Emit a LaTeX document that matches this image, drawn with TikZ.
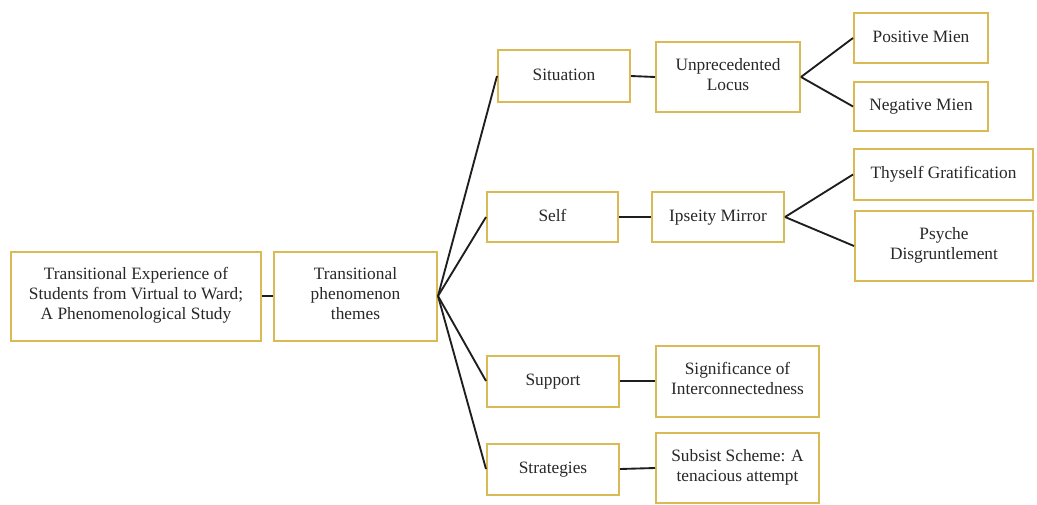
\documentclass[tikz,border=0pt]{standalone}
\usepackage{fontspec}
\setmainfont{Liberation Serif}
\definecolor{boxline}{RGB}{218,186,84}
\definecolor{txt}{RGB}{40,40,40}
\definecolor{conn}{RGB}{30,30,30}
\tikzset{
  box/.style={draw=boxline, line width=1.5pt, fill=white, inner sep=0pt,
    align=center, text=txt, font=\fontsize{13pt}{15pt}\selectfont,
    execute at begin node=\strut, execute at end node=\strut},
  link/.style={draw=conn, line width=1.4pt}
}
\begin{document}
\begin{tikzpicture}[x=0.75pt, y=-0.75pt]
\useasboundingbox[fill=white] (0,0) rectangle (1037,504);
\node[box, minimum width=187.5pt, minimum height=66.75pt] (main) at (136,296) {Transitional Experience of\\Students from Virtual to Ward;\\A Phenomenological Study};
\node[box, minimum width=122.25pt, minimum height=66.75pt] (themes) at (355.5,296) {Transitional\\phenomenon\\themes};
\node[box, minimum width=99pt, minimum height=39pt] (situation) at (564,76) {Situation};
\node[box, minimum width=108pt, minimum height=52.5pt] (locus) at (728,77) {Unprecedented\\Locus};
\node[box, minimum width=100.5pt, minimum height=37.5pt] (pos) at (921,38) {Positive Mien};
\node[box, minimum width=100.5pt, minimum height=36.75pt] (neg) at (921,106.5) {Negative Mien};
\node[box, minimum width=98.25pt, minimum height=37.5pt] (self) at (552.5,217) {Self};
\node[box, minimum width=99pt, minimum height=37.5pt] (ipse) at (718,217) {Ipseity Mirror};
\node[box, minimum width=134.25pt, minimum height=38.25pt] (thy) at (943.5,174.5) {Thyself Gratification};
\node[box, minimum width=133.5pt, minimum height=52.5pt] (psy) at (944,246) {Psyche\\Disgruntlement};
\node[box, minimum width=99pt, minimum height=38.25pt] (support) at (553,381) {Support};
\node[box, minimum width=122.25pt, minimum height=53.25pt] (signif) at (737.5,381) {Significance of\\Interconnectedness};
\node[box, minimum width=99pt, minimum height=38.25pt] (strat) at (553,469) {Strategies};
\node[box, minimum width=122.25pt, minimum height=52.5pt] (subsist) at (737.5,468) {Subsist Scheme: A\\tenacious attempt};
\draw[link] (main.east) -- (themes.west);
\draw[link] (themes.east) -- (situation.west);
\draw[link] (themes.east) -- (self.west);
\draw[link] (themes.east) -- (support.west);
\draw[link] (themes.east) -- (strat.west);
\draw[link] (situation.east) -- (locus.west);
\draw[link] (locus.east) -- (pos.west);
\draw[link] (locus.east) -- (neg.west);
\draw[link] (self.east) -- (ipse.west);
\draw[link] (ipse.east) -- (thy.west);
\draw[link] (ipse.east) -- (psy.west);
\draw[link] (support.east) -- (signif.west);
\draw[link] (strat.east) -- (subsist.west);
\end{tikzpicture}
\end{document}
